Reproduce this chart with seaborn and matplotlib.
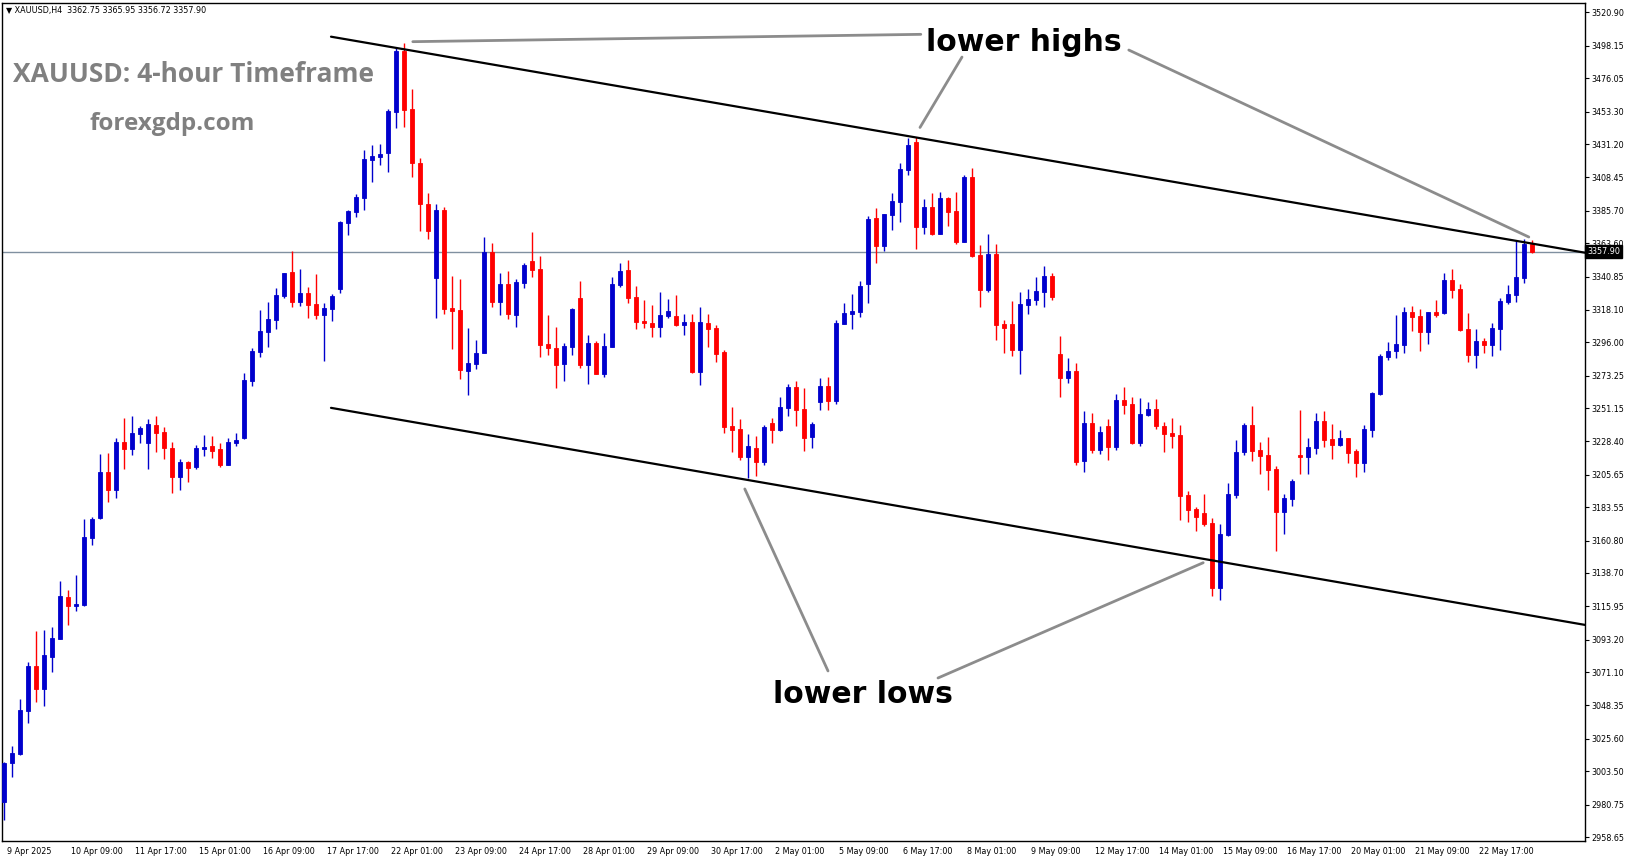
import numpy as np
import pandas as pd
import matplotlib
matplotlib.use("Agg")
import matplotlib.pyplot as plt
import matplotlib.transforms as mtransforms
import seaborn as sns

# --- H4 candles (index 0 = 9 Apr 2025) ---
opens = [2982.8, 3008.9, 3015.3, 3044.8, 3075.3, 3059.8, 3081.6, 3093.9, 3122.3, 3116.4,
         3116.9, 3162.8, 3176.2, 3207.6, 3195.5, 3228.0, 3223.5, 3233.7, 3227.6, 3239.6,
         3234.8, 3223.9, 3204.4, 3214.4, 3211.2, 3223.5, 3225.3, 3223.2, 3212.3, 3227.6,
         3230.5, 3269.8, 3289.4, 3303.0, 3311.2, 3327.6, 3343.9, 3323.5, 3329.6, 3322.1,
         3314.6, 3318.9, 3332.3, 3377.6, 3384.9, 3394.4, 3420.3, 3422.6, 3425.1, 3453.0,
         3494.6, 3455.1, 3418.3, 3390.0, 3340.1, 3386.0, 3319.4, 3318.0, 3276.7, 3281.4,
         3288.9, 3357.8, 3323.7, 3335.8, 3314.8, 3336.7, 3351.4, 3346.0, 3294.8, 3292.1,
         3281.4, 3293.0, 3326.2, 3280.7, 3295.5, 3274.6, 3293.0, 3335.1, 3345.3, 3326.9,
         3310.5, 3309.2, 3306.7, 3313.9, 3313.9, 3307.8, 3309.9, 3275.8, 3309.2, 3306.0,
         3289.4, 3238.9, 3236.9, 3217.8, 3223.9, 3214.4, 3241.0, 3236.4, 3251.4, 3265.5,
         3250.5, 3231.7, 3255.0, 3266.0, 3256.0, 3308.5, 3315.5, 3316.9, 3335.8, 3380.8,
         3361.9, 3382.8, 3391.7, 3413.7, 3432.6, 3374.6, 3388.3, 3369.9, 3394.4, 3385.5,
         3364.4, 3408.7, 3355.5, 3331.7, 3356.2, 3308.5, 3308.5, 3290.8, 3321.4, 3324.9,
         3330.3, 3341.2, 3288.0, 3271.7, 3276.4, 3215.1, 3241.0, 3222.6, 3238.9, 3224.6,
         3256.7, 3253.9, 3227.3, 3246.4, 3250.5, 3238.9, 3234.2, 3232.8, 3191.9, 3182.3,
         3179.6, 3172.8, 3128.7, 3164.6, 3191.9, 3221.2, 3239.6, 3222.6, 3219.2, 3209.6,
         3180.3, 3189.2, 3219.2, 3217.8, 3223.9, 3242.3, 3230.1, 3226.0, 3230.8, 3221.9,
         3213.7, 3236.2, 3260.7, 3286.0, 3290.1, 3294.2, 3316.7, 3313.9, 3303.0, 3316.7,
         3316.0, 3338.5, 3332.3, 3305.1, 3287.3, 3296.9, 3294.2, 3305.1, 3323.5, 3328.3,
         3339.8, 3362.75]
highs = [3010.0, 3020.7, 3052.8, 3078.2, 3099.4, 3099.8, 3101.9, 3133.2, 3127.1, 3137.3,
         3175.5, 3176.9, 3219.8, 3220.5, 3230.7, 3244.4, 3245.7, 3238.9, 3243.7, 3245.7,
         3238.3, 3228.0, 3216.4, 3215.1, 3226.0, 3232.8, 3232.1, 3227.1, 3230.5, 3233.9,
         3275.3, 3291.9, 3318.0, 3323.7, 3333.0, 3343.3, 3358.3, 3346.0, 3333.7, 3342.6,
         3322.6, 3328.9, 3378.7, 3386.2, 3397.1, 3427.1, 3430.5, 3431.2, 3455.1, 3496.5,
         3500.3, 3468.7, 3422.0, 3398.0, 3390.0, 3388.0, 3341.2, 3339.2, 3305.8, 3297.6,
         3367.8, 3363.7, 3343.3, 3344.6, 3339.2, 3350.1, 3371.2, 3354.9, 3314.6, 3306.4,
         3295.5, 3319.6, 3337.8, 3301.0, 3296.9, 3302.3, 3340.5, 3350.0, 3352.0, 3334.4,
         3325.1, 3321.4, 3330.3, 3325.5, 3328.3, 3315.3, 3315.3, 3320.1, 3315.3, 3307.8,
         3290.8, 3251.9, 3243.7, 3233.5, 3232.1, 3239.6, 3244.4, 3258.7, 3267.6, 3269.6,
         3264.8, 3241.7, 3271.4, 3272.1, 3311.0, 3322.8, 3328.9, 3337.8, 3382.1, 3387.6,
         3383.5, 3397.8, 3418.3, 3435.3, 3436.0, 3393.7, 3397.8, 3398.5, 3395.1, 3398.5,
         3410.1, 3414.9, 3362.4, 3369.9, 3363.0, 3311.2, 3324.2, 3330.3, 3332.4, 3340.5,
         3348.0, 3343.3, 3300.3, 3285.3, 3281.9, 3249.2, 3247.8, 3238.9, 3243.7, 3260.8,
         3265.5, 3258.7, 3258.0, 3255.3, 3257.3, 3241.7, 3244.4, 3239.6, 3194.6, 3183.7,
         3192.6, 3176.2, 3172.1, 3200.1, 3229.4, 3241.0, 3252.6, 3228.0, 3231.4, 3211.7,
         3192.6, 3202.8, 3249.8, 3230.8, 3247.8, 3249.2, 3240.3, 3236.2, 3230.8, 3223.2,
         3239.6, 3262.1, 3288.0, 3296.2, 3314.6, 3320.1, 3320.8, 3318.7, 3316.7, 3324.9,
         3343.3, 3346.0, 3335.8, 3316.0, 3305.1, 3298.9, 3309.2, 3326.2, 3335.1, 3365.1,
         3366.4, 3365.95]
lows = [2970.3, 2999.8, 3014.6, 3036.2, 3050.9, 3048.2, 3071.4, 3093.9, 3103.2, 3113.0,
        3116.4, 3157.8, 3175.5, 3187.1, 3190.1, 3209.6, 3219.4, 3227.6, 3209.8, 3221.4,
        3216.7, 3193.5, 3195.5, 3201.0, 3209.8, 3218.7, 3217.4, 3211.2, 3212.3, 3225.3,
        3229.8, 3266.2, 3286.2, 3293.0, 3305.3, 3326.2, 3320.3, 3321.0, 3312.8, 3311.9,
        3283.5, 3310.8, 3329.4, 3369.4, 3381.7, 3386.2, 3405.3, 3416.9, 3412.1, 3442.1,
        3442.8, 3408.9, 3372.1, 3366.4, 3312.8, 3315.5, 3291.7, 3271.0, 3260.3, 3278.0,
        3288.9, 3320.3, 3314.8, 3312.1, 3306.7, 3333.3, 3340.8, 3286.2, 3287.6, 3265.1,
        3269.8, 3287.6, 3278.7, 3267.8, 3274.6, 3272.6, 3293.0, 3333.7, 3323.0, 3305.3,
        3306.0, 3299.8, 3299.8, 3312.8, 3307.1, 3301.0, 3275.1, 3267.1, 3292.8, 3282.6,
        3234.4, 3221.4, 3215.7, 3203.2, 3204.8, 3212.3, 3227.6, 3235.7, 3246.0, 3239.2,
        3222.1, 3224.2, 3250.0, 3250.0, 3254.0, 3308.5, 3305.1, 3313.3, 3322.8, 3350.3,
        3358.3, 3372.6, 3378.0, 3410.1, 3359.6, 3369.9, 3369.2, 3369.9, 3375.3, 3363.0,
        3364.4, 3354.2, 3320.1, 3330.3, 3297.6, 3288.7, 3286.7, 3274.6, 3315.3, 3321.4,
        3320.1, 3324.9, 3258.7, 3268.3, 3212.3, 3207.6, 3220.5, 3219.8, 3215.8, 3222.6,
        3247.1, 3226.7, 3225.3, 3245.8, 3236.9, 3221.2, 3223.9, 3174.8, 3173.5, 3167.4,
        3170.7, 3123.0, 3120.5, 3163.9, 3189.8, 3219.2, 3215.1, 3206.2, 3195.3, 3153.7,
        3165.3, 3184.4, 3206.2, 3206.2, 3219.8, 3224.6, 3216.4, 3225.3, 3213.7, 3204.2,
        3207.6, 3231.4, 3260.1, 3283.9, 3285.3, 3288.7, 3303.7, 3290.1, 3294.8, 3313.3,
        3315.3, 3326.2, 3303.7, 3282.6, 3278.5, 3288.7, 3286.7, 3290.8, 3322.1, 3323.5,
        3336.4, 3356.72]
closes = [3008.9, 3015.7, 3045.3, 3075.3, 3059.8, 3082.8, 3094.4, 3123.0, 3116.4, 3117.5,
          3163.2, 3175.5, 3207.6, 3195.5, 3228.0, 3223.5, 3234.2, 3237.6, 3240.3, 3234.4,
          3224.2, 3204.4, 3214.4, 3210.5, 3224.0, 3224.6, 3222.1, 3212.3, 3228.0, 3229.4,
          3270.3, 3290.1, 3303.7, 3311.9, 3328.3, 3343.3, 3323.5, 3329.6, 3321.4, 3314.6,
          3319.4, 3327.6, 3378.0, 3385.5, 3395.1, 3421.0, 3423.0, 3424.4, 3453.7, 3494.6,
          3454.4, 3418.3, 3390.0, 3372.0, 3386.0, 3318.9, 3317.6, 3277.3, 3281.9, 3288.7,
          3357.8, 3323.7, 3335.8, 3315.5, 3337.1, 3348.7, 3345.5, 3294.4, 3292.3, 3280.7,
          3293.5, 3318.9, 3280.7, 3295.5, 3274.6, 3293.5, 3335.8, 3344.6, 3326.4, 3310.1,
          3309.4, 3306.7, 3314.6, 3317.4, 3307.8, 3309.9, 3275.8, 3309.9, 3305.1, 3288.3,
          3238.2, 3236.4, 3217.8, 3225.3, 3214.4, 3238.2, 3236.4, 3251.9, 3265.5, 3250.1,
          3231.0, 3240.3, 3266.0, 3256.0, 3309.2, 3316.0, 3317.3, 3334.4, 3380.1, 3361.9,
          3383.5, 3392.4, 3414.2, 3430.5, 3374.6, 3388.3, 3369.9, 3394.4, 3384.9, 3364.4,
          3408.7, 3354.8, 3331.7, 3356.2, 3307.8, 3305.8, 3290.8, 3322.1, 3325.5, 3331.0,
          3341.2, 3326.9, 3271.7, 3276.4, 3214.4, 3241.0, 3222.6, 3234.8, 3224.6, 3256.7,
          3253.2, 3227.3, 3247.1, 3250.5, 3238.9, 3233.5, 3232.1, 3191.2, 3181.7, 3176.9,
          3172.1, 3128.5, 3165.3, 3192.6, 3221.2, 3239.6, 3221.9, 3218.5, 3208.9, 3180.3,
          3189.8, 3201.4, 3217.8, 3224.6, 3242.3, 3229.4, 3226.0, 3230.8, 3220.5, 3213.7,
          3236.9, 3261.4, 3286.7, 3290.1, 3294.8, 3316.7, 3313.3, 3303.0, 3316.7, 3314.6,
          3338.5, 3331.7, 3304.4, 3287.3, 3296.9, 3294.2, 3305.8, 3324.2, 3328.9, 3340.5,
          3363.0, 3357.90]

x_labels = ["9 Apr 2025", "10 Apr 09:00", "11 Apr 17:00", "15 Apr 01:00", "16 Apr 09:00",
            "17 Apr 17:00", "22 Apr 01:00", "23 Apr 09:00", "24 Apr 17:00", "28 Apr 01:00",
            "29 Apr 09:00", "30 Apr 17:00", "2 May 01:00", "5 May 09:00", "6 May 17:00",
            "8 May 01:00", "9 May 09:00", "12 May 17:00", "14 May 01:00", "15 May 09:00",
            "16 May 17:00", "20 May 01:00", "21 May 09:00", "22 May 17:00"]
y_labels = ["3520.90", "3498.15", "3476.05", "3453.30", "3431.20", "3408.45", "3385.70",
            "3363.60", "3340.85", "3318.10", "3296.00", "3273.25", "3251.15", "3228.40",
            "3205.65", "3183.55", "3160.80", "3138.70", "3115.95", "3093.20", "3071.10",
            "3048.35", "3025.60", "3003.50", "2980.75", "2958.65"]
last_price = 3357.90

# channel lines (bar index, price)
upper_x = [40.875, 197.625]
upper_y = [3504.4, 3357.1]
lower_x = [40.875, 197.625]
lower_y = [3251.3, 3103.3]

# grey pointer lines (bar index, price)
pointer_x0 = [51.1, 119.75, 140.6, 103.0, 116.75]
pointer_y0 = [3501.0, 3490.5, 3495.3, 3071.9, 3067.1]
pointer_x1 = [114.6, 114.5, 190.6, 92.6, 149.9]
pointer_y1 = [3506.0, 3442.5, 3367.8, 3196.0, 3145.7]

sns.set_theme(style="white")
plt.rcParams["font.family"] = ["DejaVu Sans"]

df = pd.DataFrame({"o": opens, "h": highs, "l": lows, "c": closes})
df["i"] = np.arange(len(df))
df["col"] = np.where(df["c"] >= df["o"], "#0000cc", "#ff0000")

fig = plt.figure(figsize=(16.31, 8.61), dpi=100)
ax = fig.add_axes([2 / 1631, 1 - 841 / 861, 1583 / 1631, 838 / 861])

# wicks and bodies
ax.vlines(df["i"], df["l"], df["h"], colors=df["col"], linewidth=1.0, zorder=2)
body_low = np.minimum(df["o"], df["c"])
body_h = np.abs(df["c"] - df["o"])
ax.bar(df["i"], body_h, bottom=body_low, width=0.52, color=df["col"],
       edgecolor=df["col"], linewidth=0.6, zorder=3)

# last price line
ax.axhline(last_price, color="#8090a0", linewidth=1.0, zorder=1)

# channel
chan = pd.DataFrame({
    "x": upper_x + lower_x,
    "y": upper_y + lower_y,
    "seg": ["upper"] * 2 + ["lower"] * 2,
})
sns.lineplot(data=chan, x="x", y="y", units="seg", estimator=None, sort=False,
             color="black", linewidth=1.6, ax=ax, zorder=4)

# pointers
pts = pd.DataFrame({
    "x": [v for pair in zip(pointer_x0, pointer_x1) for v in pair],
    "y": [v for pair in zip(pointer_y0, pointer_y1) for v in pair],
    "seg": [k for k in range(len(pointer_x0)) for _ in range(2)],
})
sns.lineplot(data=pts, x="x", y="y", units="seg", estimator=None, sort=False,
             color="#8c8c8c", linewidth=2.0, ax=ax, zorder=5)

ax.text(127.5, 3500.5, "lower highs", fontsize=21.5, fontweight="bold",
        color="black", ha="center", va="center", zorder=6)
ax.text(107.4, 3055.5, "lower lows", fontsize=21.5, fontweight="bold",
        color="black", ha="center", va="center", zorder=6)

ax.set_xlim(-0.25, 197.625)
ax.set_ylim(2955.94, 3527.37)
ax.set_xlabel("")
ax.set_ylabel("")

# axes
ax.set_xticks(np.arange(0, 8 * len(x_labels), 8))
ax.set_xticklabels(x_labels, fontsize=5.8)
ax.set_yticks([float(v) for v in y_labels])
ax.set_yticklabels(y_labels, fontsize=5.8)
ax.yaxis.tick_right()
ax.tick_params(axis="both", direction="out", length=3, width=0.8, color="black",
               labelcolor="black")
ax.tick_params(axis="x", pad=1.5)
ax.tick_params(axis="y", pad=1.5)
offset = mtransforms.ScaledTranslation(2 / 72, 0, fig.dpi_scale_trans)
for lab in ax.get_xticklabels():
    lab.set_horizontalalignment("left")
    lab.set_transform(lab.get_transform() + offset)
for sp in ax.spines.values():
    sp.set_color("black")
    sp.set_linewidth(1.0)
    sp.set_visible(True)

# last price tag
ax.text(1.0015, last_price, "3357.90", transform=ax.get_yaxis_transform(),
        fontsize=5.8, color="white", ha="left", va="center", clip_on=False,
        zorder=10, bbox=dict(boxstyle="square,pad=0.25", fc="black", ec="black"))

# header and titles
fig.text(6 / 1631, 1 - 10.5 / 861, "\u25bc XAUUSD,H4  3362.75 3365.95 3356.72 3357.90",
         fontsize=5.8, color="black", ha="left", va="center")
fig.text(13.3 / 1631, 1 - 81.7 / 861, "XAUUSD: 4-hour Timeframe", family="Open Sans",
         fontsize=19, fontweight="bold", color="#808080", ha="left", va="baseline")
fig.text(89.3 / 1631, 1 - 130 / 861, "forexgdp.com", family="Open Sans",
         fontsize=17.5, fontweight="bold", color="#808080", ha="left", va="baseline")

fig.savefig("out.png", dpi=100, facecolor="white")
